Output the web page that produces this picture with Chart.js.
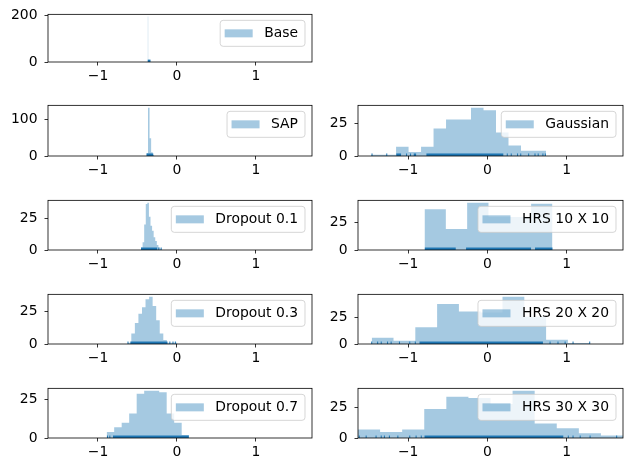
<!DOCTYPE html>
<html>
<head>
<meta charset="utf-8">
<script src="https://cdn.jsdelivr.net/npm/chart.js@4.4.0/dist/chart.umd.min.js"></script>
<style>
  html, body { margin: 0; padding: 0; background: #fff; overflow: hidden; }
  body { width: 624px; height: 464px; position: relative; }
  canvas { position: absolute; }
</style>
</head>
<body>
<script>
// shared x axis (all panels)
const xMin = -1.633, xMax = 1.71;
const xTicks = [-1, 0, 1];

// each histogram: [first bin edge, bin width], counts per bin,
// rug marks as [from, to] spans (from == to is a single mark), y tick values
const baseBins = [-0.372, 0.008];
const baseCounts = [196, 4];
const baseRug = [[-0.37, -0.335]];
const baseYTicks = [0, 200];

const sapBins = [-0.387, 0.02];
const sapCounts = [8, 131, 48, 10, 3];
const sapRug = [[-0.385, -0.30]];
const sapYTicks = [0, 100];

const gaussBins = [-1.468, 0.1576];
const gaussCounts = [1, 1, 7, 3, 7, 21, 28, 28, 37, 35, 18, 8, 4, 4];
const gaussRug = [[-1.456, -1.456], [-1.27, -1.27], [-1.15, -1.09], [-1.02, -1.02], [-0.97, -0.97],
  [-0.93, -0.90], [-0.77, 0.20], [0.25, 0.25], [0.30, 0.31], [0.38, 0.38], [0.42, 0.43],
  [0.52, 0.52], [0.60, 0.60], [0.64, 0.65], [0.70, 0.70], [0.73, 0.73]];
const gaussYTicks = [0, 25];

const drop1Bins = [-0.455, 0.02];
const drop1Counts = [2, 6, 20, 36, 37, 26, 19, 15, 10, 7, 4, 2, 1];
const drop1Rug = [[-0.455, -0.25], [-0.23, -0.23], [-0.20, -0.20]];
const drop1YTicks = [0, 25];

const hrs10Bins = [-0.794, 0.269];
const hrs10Counts = [37, 19, 43, 30, 30, 42];
const hrs10Rug = [[-0.79, -0.40], [-0.27, 0.55], [0.60, 0.82]];
const hrs10YTicks = [0, 25];

const drop3Bins = [-0.623, 0.045];
const drop3Counts = [1, 8, 16, 23, 28, 34, 36, 29, 18, 8, 3, 1, 1, 1];
const drop3Rug = [[-0.62, -0.62], [-0.59, -0.12], [-0.09, -0.09], [-0.05, -0.05], [-0.02, -0.02]];
const drop3YTicks = [0, 25];

const hrs20Bins = [-1.46, 0.275];
const hrs20Counts = [6, 3, 16, 38, 31, 30, 45, 26, 4, 1];
const hrs20Rug = [[-1.46, -1.46], [-1.385, -1.385], [-1.34, -1.34], [-1.26, -1.26], [-1.215, -1.215],
  [-1.11, -1.11], [-0.98, -0.98], [-0.91, -0.91], [-0.857, 0.70], [0.79, 0.79], [0.89, 0.89],
  [0.98, 0.98], [1.08, 1.08], [1.29, 1.29]];
const hrs20YTicks = [0, 25];

const drop7Bins = [-0.89, 0.095];
const drop7Counts = [4, 7, 10, 16, 29, 31, 31, 30, 16, 10, 2];
const drop7Rug = [[-0.88, -0.88], [-0.85, -0.84], [-0.81, 0.15]];
const drop7YTicks = [0, 25];

const hrs30Bins = [-1.633, 0.2786];
const hrs30Counts = [7, 5, 7, 24, 34, 33, 28, 39, 12, 8, 4, 2];
const hrs30Rug = [[-1.617, -1.617], [-1.53, -1.53], [-1.405, -1.405], [-1.34, -1.34], [-1.30, -1.30],
  [-1.237, -1.237], [-1.13, -1.13], [-0.98, -0.98], [-0.90, -0.90], [-0.835, -0.835], [-0.794, 0.957],
  [1.02, 1.02], [1.08, 1.08], [1.17, 1.17], [1.295, 1.295], [1.63, 1.63]];
const hrs30YTicks = [0, 25];

const panels = [
  { label: 'Base', bins: baseBins, counts: baseCounts, rug: baseRug, yTicks: baseYTicks, col: 0, row: 0 },
  { label: 'SAP', bins: sapBins, counts: sapCounts, rug: sapRug, yTicks: sapYTicks, col: 0, row: 1 },
  { label: 'Gaussian', bins: gaussBins, counts: gaussCounts, rug: gaussRug, yTicks: gaussYTicks, col: 1, row: 1 },
  { label: 'Dropout 0.1', bins: drop1Bins, counts: drop1Counts, rug: drop1Rug, yTicks: drop1YTicks, col: 0, row: 2 },
  { label: 'HRS 10 X 10', bins: hrs10Bins, counts: hrs10Counts, rug: hrs10Rug, yTicks: hrs10YTicks, col: 1, row: 2 },
  { label: 'Dropout 0.3', bins: drop3Bins, counts: drop3Counts, rug: drop3Rug, yTicks: drop3YTicks, col: 0, row: 3 },
  { label: 'HRS 20 X 20', bins: hrs20Bins, counts: hrs20Counts, rug: hrs20Rug, yTicks: hrs20YTicks, col: 1, row: 3 },
  { label: 'Dropout 0.7', bins: drop7Bins, counts: drop7Counts, rug: drop7Rug, yTicks: drop7YTicks, col: 0, row: 4 },
  { label: 'HRS 30 X 30', bins: hrs30Bins, counts: hrs30Counts, rug: hrs30Rug, yTicks: hrs30YTicks, col: 1, row: 4 },
];

// axes boxes in page pixels
const colLeft = [48, 358], colWidth = [264, 265];
const rowTop = [13, 104, 199, 293, 387], rowHeight = [49, 52, 51, 51, 51];

const PAD_L = 46, PAD_T = 14, PAD_R = 1, PAD_B = 26;
const FONT = 'DejaVu Sans';
const HIST = 'rgba(31,119,180,0.4)';
const RUG = '#1f77b4';

const fmt = v => String(v).replace('-', '\u2212');

const axesDecor = {
  id: 'axesDecor',
  afterDatasetsDraw(chart, args, opts) {
    const { ctx, chartArea: a, scales: { x } } = chart;
    ctx.save();
    ctx.beginPath();
    ctx.rect(a.left, a.top, a.right - a.left, a.bottom - a.top);
    ctx.clip();
    // rug marks
    const rugH = (a.bottom - a.top) * 0.05;
    ctx.fillStyle = RUG;
    ctx.strokeStyle = RUG;
    ctx.lineWidth = 1;
    opts.rug.forEach(([lo, hi]) => {
      const x1 = x.getPixelForValue(lo), x2 = x.getPixelForValue(hi);
      if (x2 - x1 < 1) {
        ctx.beginPath();
        ctx.moveTo(x1, a.bottom);
        ctx.lineTo(x1, a.bottom - rugH);
        ctx.stroke();
      } else {
        ctx.fillRect(x1, a.bottom - rugH, x2 - x1, rugH);
      }
    });
    ctx.restore();
    // frame (spines)
    ctx.save();
    ctx.strokeStyle = '#000';
    ctx.lineWidth = 0.8;
    ctx.strokeRect(a.left, a.top, a.right - a.left, a.bottom - a.top);
    ctx.restore();
  },
  afterDraw(chart, args, opts) {
    const { ctx, chartArea: a } = chart;
    ctx.save();
    ctx.font = '13.9px "' + FONT + '"';
    const tw = ctx.measureText(opts.label).width;
    const bw = 44 + tw + 7, bh = 26;
    const bx = a.right - 7 - bw, by = a.top + 6;
    ctx.beginPath();
    ctx.roundRect(bx, by, bw, bh, 3);
    ctx.fillStyle = 'rgba(255,255,255,0.8)';
    ctx.fill();
    ctx.strokeStyle = 'rgba(204,204,204,0.8)';
    ctx.lineWidth = 1;
    ctx.stroke();
    ctx.fillStyle = HIST;
    ctx.fillRect(bx + 4.5, by + bh / 2 - 4, 28, 8);
    ctx.fillStyle = '#000';
    ctx.textBaseline = 'middle';
    ctx.fillText(opts.label, bx + 44, by + bh / 2 + 0.5);
    ctx.restore();
  }
};

panels.forEach(p => {
  const left = colLeft[p.col], top = rowTop[p.row];
  const W = colWidth[p.col] + PAD_L + PAD_R, H = rowHeight[p.row] + PAD_T + PAD_B;
  const cv = document.createElement('canvas');
  cv.width = W; cv.height = H;
  cv.style.left = (left - PAD_L) + 'px';
  cv.style.top = (top - PAD_T) + 'px';
  cv.style.width = W + 'px';
  cv.style.height = H + 'px';
  document.body.appendChild(cv);

  const [start, width] = p.bins;
  const pts = p.counts.map((c, i) => ({ x: start + i * width, y: c }));
  pts.push({ x: start + p.counts.length * width, y: 0 });
  const yMax = Math.max(...p.counts) * 1.05;

  const tickFont = { family: FONT, size: 13.9 };
  new Chart(cv, {
    type: 'line',
    data: {
      datasets: [{
        label: p.label,
        data: pts,
        stepped: 'before',
        fill: 'origin',
        backgroundColor: HIST,
        borderWidth: 0,
        borderColor: 'rgba(0,0,0,0)',
        pointRadius: 0
      }]
    },
    options: {
      responsive: false,
      animation: false,
      devicePixelRatio: 1,
      layout: { padding: { left: 0, top: PAD_T, right: PAD_R, bottom: 0 } },
      plugins: {
        legend: { display: false },
        tooltip: { enabled: false },
        axesDecor: { label: p.label, rug: p.rug }
      },
      scales: {
        x: {
          type: 'linear', min: xMin, max: xMax,
          afterBuildTicks: s => { s.ticks = xTicks.map(v => ({ value: v })); },
          afterFit: s => { s.height = PAD_B; },
          grid: { drawOnChartArea: false, drawTicks: true, tickLength: 3.5, color: '#000', lineWidth: 0.8 },
          border: { display: false },
          ticks: { padding: 3, color: '#000', font: tickFont, maxRotation: 0, autoSkip: false, callback: fmt }
        },
        y: {
          type: 'linear', min: 0, max: yMax,
          afterBuildTicks: s => { s.ticks = p.yTicks.map(v => ({ value: v })); },
          afterFit: s => { s.width = PAD_L; },
          grid: { drawOnChartArea: false, drawTicks: true, tickLength: 3.5, color: '#000', lineWidth: 0.8 },
          border: { display: false },
          ticks: { padding: 7, color: '#000', font: tickFont, autoSkip: false, callback: fmt }
        }
      }
    },
    plugins: [axesDecor]
  });
});
</script>
</body>
</html>
